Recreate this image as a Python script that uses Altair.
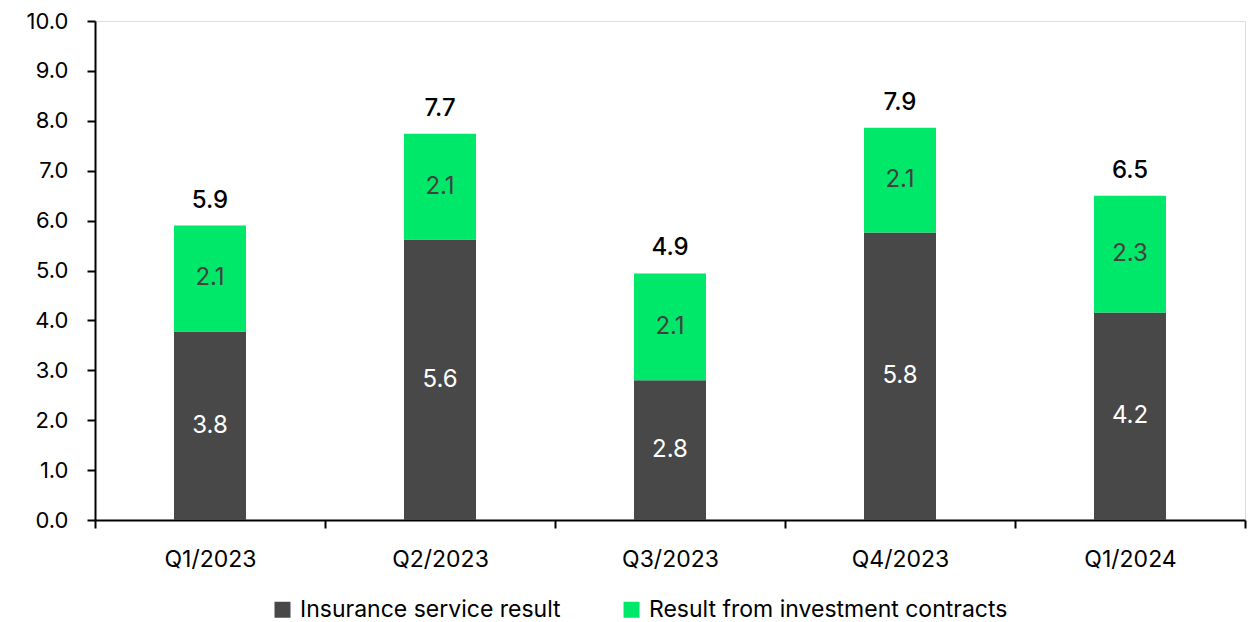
import altair as alt
import pandas as pd

quarters = ["Q1/2023", "Q2/2023", "Q3/2023", "Q4/2023", "Q1/2024"]
insurance = [3.78, 5.62, 2.80, 5.76, 4.16]
investment = [2.12, 2.12, 2.14, 2.10, 2.34]
series = ["Insurance service result", "Result from investment contracts"]
colors = ["#484848", "#00E86A"]

FONT = "Inter"
FS = 23

rows = []
for q, a, b in zip(quarters, insurance, investment):
    rows.append({"q": q, "s": series[0], "v": a, "lo": 0.0, "hi": a})
    rows.append({"q": q, "s": series[1], "v": b, "lo": a, "hi": a + b})
df = pd.DataFrame(rows)
df["mid"] = (df["lo"] + df["hi"]) / 2
tot = pd.DataFrame({"q": quarters, "t": [a + b for a, b in zip(insurance, investment)]})

xenc = alt.X("q:N", sort=quarters, title=None,
             scale=alt.Scale(paddingInner=0, paddingOuter=0),
             axis=alt.Axis(labelAngle=0, tickBand="extent", domainColor="black", domainWidth=2,
                           tickColor="black", tickWidth=2, tickSize=8, labelPadding=20,
                           labelFontSize=FS, labelColor="black", labelFont=FONT))

bars = alt.Chart(df).mark_bar(width=72).encode(
    x=xenc,
    y=alt.Y("lo:Q", title=None,
            scale=alt.Scale(domain=[0, 10], nice=False),
            axis=alt.Axis(values=list(range(0, 11)), format=".1f", grid=False,
                          domainColor="black", domainWidth=2, tickColor="black", tickWidth=2,
                          tickSize=8, labelFontSize=22, labelColor="black", labelPadding=19,
                          labelFont=FONT)),
    y2="hi:Q",
    color=alt.Color("s:N", sort=series, title=None,
                    scale=alt.Scale(domain=series, range=colors),
                    legend=alt.Legend(orient="none", legendX=176, legendY=577, direction="horizontal",
                                      symbolType="square", symbolSize=256, symbolStrokeWidth=0,
                                      labelFontSize=FS, labelFont=FONT, labelColor="black",
                                      labelLimit=0, columnPadding=59, labelOffset=6)),
)

lab_ins = alt.Chart(df[df["s"] == series[0]]).mark_text(
    fontSize=24, font=FONT, color="white", baseline="middle").encode(
    x=alt.X("q:N", sort=quarters), y="mid:Q", text=alt.Text("v:Q", format=".1f"))
lab_inv = alt.Chart(df[df["s"] == series[1]]).mark_text(
    fontSize=24, font=FONT, color="#404040", baseline="middle").encode(
    x=alt.X("q:N", sort=quarters), y="mid:Q", text=alt.Text("v:Q", format=".1f"))
lab_tot = alt.Chart(tot).mark_text(
    fontSize=24, font=FONT, color="black", fontWeight=500, baseline="bottom", dy=-13).encode(
    x=alt.X("q:N", sort=quarters), y="t:Q", text=alt.Text("t:Q", format=".1f"))

chart = alt.layer(bars, lab_ins, lab_inv, lab_tot).properties(
    width=1150, height=499,
    autosize=alt.AutoSizeParams(type="none"),
    padding={"left": 87, "top": 13, "right": 6, "bottom": 102},
).configure_view(stroke=None).configure(font=FONT)

chart.save("out.html", embed_options={"renderer": "svg", "actions": False})
